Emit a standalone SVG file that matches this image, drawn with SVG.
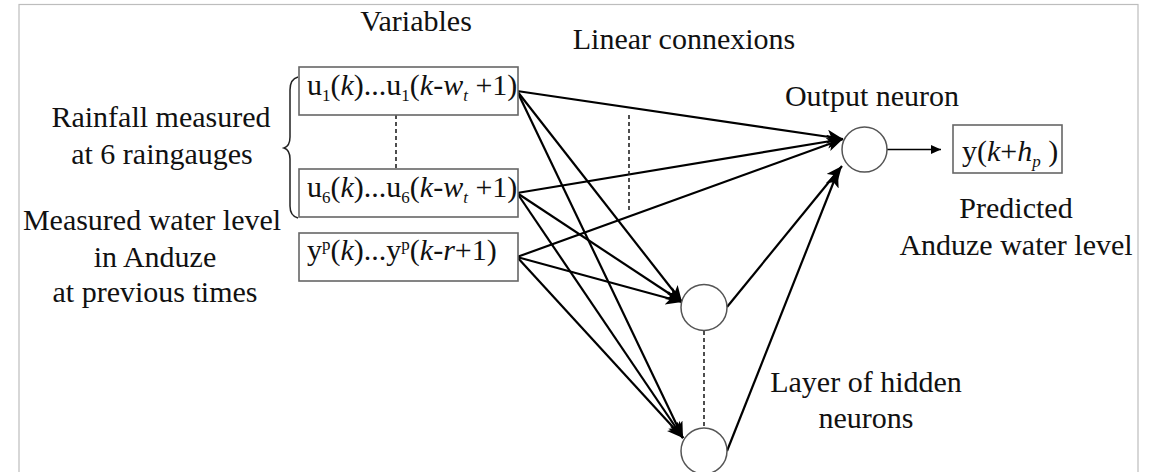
<svg xmlns="http://www.w3.org/2000/svg" width="1158" height="472" viewBox="0 0 1158 472">
<style>
text{font-family:'Liberation Serif','Times New Roman','DejaVu Serif',serif;font-size:30px;fill:#111}
.lbl{text-anchor:middle}
.it{font-style:italic}
.box{fill:#fff;stroke:#666;stroke-width:1.6}
.neuron{fill:#fff;stroke:#555;stroke-width:1.5}
.edge{stroke:#000;stroke-width:2.2;fill:none;marker-end:url(#ah)}
.dash{stroke:#222;stroke-width:1.6;stroke-dasharray:4 3;fill:none}
</style>
<defs>
<marker id="ah" markerUnits="userSpaceOnUse" markerWidth="18" markerHeight="16" refX="16" refY="7" orient="auto">
<path d="M0,0 L16,7 L0,14 L4,7 z" fill="#000"/>
</marker>
<marker id="ahs" markerUnits="userSpaceOnUse" markerWidth="12" markerHeight="10" refX="10" refY="4.5" orient="auto">
<path d="M0,0 L10,4.5 L0,9 z" fill="#000"/>
</marker>
</defs>
<rect x="19" y="4.5" width="1119" height="520" fill="#fff" stroke="#bdbdbd" stroke-width="1.2"/>

<g id="labels">
<text class="lbl" x="416" y="31">Variables</text>
<text class="lbl" x="684" y="49">Linear connexions</text>
<text class="lbl" x="872" y="106">Output neuron</text>
<text class="lbl" x="1016" y="218">Predicted</text>
<text class="lbl" x="1016" y="255">Anduze water level</text>
<text class="lbl" x="866" y="392">Layer of hidden</text>
<text class="lbl" x="866" y="428">neurons</text>
<text class="lbl" x="161" y="127">Rainfall measured</text>
<text class="lbl" x="162" y="164">at 6 raingauges</text>
<text class="lbl" x="152" y="230">Measured water level</text>
<text class="lbl" x="155" y="267">in Anduze</text>
<text class="lbl" x="155" y="302">at previous times</text>
</g>

<g id="brace">
<path d="M298,77 Q290,79 290,90 L290,137 Q290,146 284,148 Q290,150 290,159 L290,206 Q290,216 298,218" fill="none" stroke="#222" stroke-width="1.5"/>
</g>

<g id="connectors">
<line class="edge" x1="517" y1="91" x2="843" y2="139"/>
<line class="edge" x1="517" y1="193" x2="843" y2="139"/>
<line class="edge" x1="517" y1="257" x2="843" y2="139"/>
<line class="edge" x1="517" y1="91" x2="682" y2="302"/>
<line class="edge" x1="517" y1="193" x2="682" y2="302"/>
<line class="edge" x1="517" y1="257" x2="682" y2="302"/>
<line class="edge" x1="517" y1="91" x2="683" y2="438"/>
<line class="edge" x1="517" y1="193" x2="683" y2="438"/>
<line class="edge" x1="517" y1="257" x2="683" y2="438"/>
<line class="edge" x1="727" y1="307" x2="842" y2="166"/>
<line class="edge" x1="727" y1="451" x2="838" y2="171"/>
<line x1="887" y1="149.5" x2="941" y2="149.5" stroke="#000" stroke-width="1.4" marker-end="url(#ahs)"/>
<line class="dash" x1="396" y1="115" x2="396" y2="169"/>
<line class="dash" x1="629" y1="115" x2="629" y2="213"/>
<line class="dash" x1="704" y1="331" x2="704" y2="428"/>
</g>

<g id="input-u1">
<rect class="box" x="299" y="67" width="219" height="48"/>
<text x="307" y="95">u<tspan font-size="17" dy="6">1</tspan><tspan dy="-6">(</tspan><tspan class="it">k</tspan>)...u<tspan font-size="17" dy="6">1</tspan><tspan dy="-6">(</tspan><tspan class="it">k</tspan>-<tspan class="it">w</tspan><tspan class="it" font-size="17" dy="6">t</tspan><tspan dy="-6"> +1)</tspan></text>
</g>
<g id="input-u6">
<rect class="box" x="299" y="169" width="219" height="48"/>
<text x="307" y="197">u<tspan font-size="17" dy="6">6</tspan><tspan dy="-6">(</tspan><tspan class="it">k</tspan>)...u<tspan font-size="17" dy="6">6</tspan><tspan dy="-6">(</tspan><tspan class="it">k</tspan>-<tspan class="it">w</tspan><tspan class="it" font-size="17" dy="6">t</tspan><tspan dy="-6"> +1)</tspan></text>
</g>
<g id="input-yp">
<rect class="box" x="299" y="233" width="219" height="48"/>
<text x="307" y="260">y<tspan font-size="17" dy="-10">p</tspan><tspan dy="10">(</tspan><tspan class="it">k</tspan>)...y<tspan font-size="17" dy="-10">p</tspan><tspan dy="10">(</tspan><tspan class="it">k</tspan>-<tspan class="it">r</tspan>+1)</text>
</g>

<g id="output-neuron">
<circle class="neuron" cx="864.5" cy="149.5" r="22.5"/>
</g>
<g id="hidden-1">
<circle class="neuron" cx="704" cy="307.5" r="23"/>
</g>
<g id="hidden-2">
<circle class="neuron" cx="704" cy="451" r="23"/>
</g>

<g id="output-box">
<rect class="box" x="953" y="125" width="109" height="48"/>
<text x="962" y="161">y(<tspan class="it">k</tspan>+<tspan class="it">h</tspan><tspan class="it" font-size="17" dy="6">p</tspan><tspan dy="-6"> )</tspan></text>
</g>
</svg>
